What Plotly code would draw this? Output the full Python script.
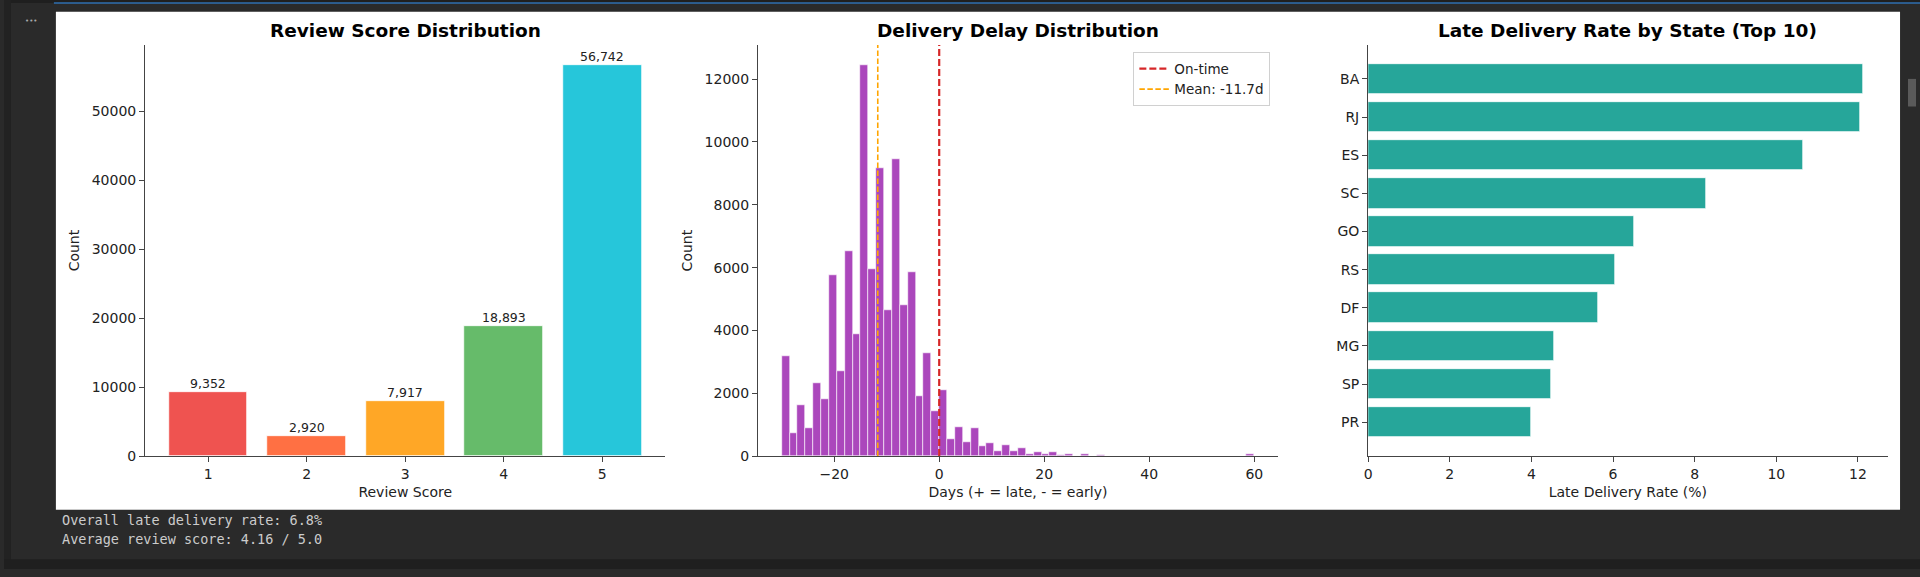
import numpy as np
import plotly.graph_objects as go

# ---------------- data ----------------
review_scores = [1, 2, 3, 4, 5]
review_counts = [9352, 2920, 7917, 18893, 56742]

delay_bin_start = -30
delay_bin_width = 1.5
delay_counts = [
    3194, 733, 1623, 890, 2325, 1822, 5759, 2702, 6534, 3895,
    12461, 5969, 9173, 4639, 9445, 4817, 5843, 1906, 3277, 1445,
    2094, 534, 932, 440, 890, 314, 408, 157, 345, 157,
    240, 52, 136, 63, 136, 20, 73, 10, 52, 10,
    31, 0, 0, 0, 0, 0, 0, 0, 0, 0,
    0, 0, 0, 0, 0, 0, 0, 0, 0, 52,
]
delay_mean = -11.7
ontime_day = 0

states = ["BA", "RJ", "ES", "SC", "GO", "RS", "DF", "MG", "SP", "PR"]
late_rates = [12.12, 12.06, 10.66, 8.27, 6.51, 6.06, 5.64, 4.56, 4.48, 4.00]

summary_lines = ["Overall late delivery rate: 6.8%", "Average review score: 4.16 / 5.0"]

titles = ["Review Score Distribution", "Delivery Delay Distribution",
          "Late Delivery Rate by State (Top 10)"]

# ---------------- styles ----------------
W, H = 1920, 577
review_colors = ["#ef5350", "#ff7043", "#ffa726", "#66bb6a", "#26c6da"]
hist_color = "#ab47bc"
state_color = "#26a69a"
FONT = "DejaVu Sans"
TXT = "#222222"
AX = "#444444"


def fx(px):
    return px / W


def fy(py):
    return 1 - py / H


delay_centers = delay_bin_start + delay_bin_width * (np.arange(len(delay_counts)) + 0.5)
delay_ymax = max(delay_counts) * 1.05

fig = go.Figure()

fig.add_trace(go.Bar(
    x=review_scores, y=review_counts, width=0.8,
    marker=dict(color=review_colors, line=dict(color="white", width=0.8)),
    showlegend=False, xaxis="x", yaxis="y",
))

fig.add_trace(go.Bar(
    x=delay_centers, y=delay_counts, width=delay_bin_width,
    marker=dict(color=hist_color, line=dict(color="white", width=0.6)),
    showlegend=False, xaxis="x2", yaxis="y2",
))
fig.add_trace(go.Scatter(
    x=[ontime_day, ontime_day], y=[0, delay_ymax], mode="lines",
    line=dict(color="#d62728", width=2.2, dash="7px,3px"),
    name="On-time", xaxis="x2", yaxis="y2",
))
fig.add_trace(go.Scatter(
    x=[delay_mean, delay_mean], y=[0, delay_ymax], mode="lines",
    line=dict(color="#ffa500", width=1.6, dash="5.5px,2.5px"),
    name=f"Mean: {delay_mean}d", xaxis="x2", yaxis="y2",
))

fig.add_trace(go.Bar(
    x=late_rates, y=states, orientation="h", width=0.8,
    marker=dict(color=state_color, line=dict(color="white", width=0.8)),
    showlegend=False, xaxis="x3", yaxis="y3",
))

axis_common = dict(
    showline=True, linecolor=AX, linewidth=1.2, ticks="outside", ticklen=5,
    tickcolor=AX, tickwidth=1, showgrid=False, zeroline=False,
    tickfont=dict(family=FONT, size=14, color=TXT),
    title_font=dict(family=FONT, size=14, color=TXT),
)

ydom = [fy(462.5), fy(45.7)]

fig.update_layout(
    width=W, height=H,
    margin=dict(l=0, r=0, t=0, b=0),
    paper_bgcolor="#2a2a2a", plot_bgcolor="white",
    font=dict(family=FONT, color=TXT),
    bargap=0,
    xaxis=dict(axis_common, domain=[fx(141.4), fx(662.7)], range=[0.36, 5.64],
               tickvals=review_scores, anchor="y",
               title=dict(text="Review Score", standoff=6)),
    yaxis=dict(axis_common, domain=ydom, range=[0, max(review_counts) * 1.05],
               tickvals=[0, 10000, 20000, 30000, 40000, 50000], tickformat="d",
               anchor="x", title=dict(text="Count", standoff=8)),
    xaxis2=dict(axis_common, domain=[fx(755.6), fx(1276.6)], range=[-34.5, 64.5],
                tickvals=[-20, 0, 20, 40, 60], anchor="y2",
                title=dict(text="Days (+ = late, - = early)", standoff=6)),
    yaxis2=dict(axis_common, domain=ydom, range=[0, delay_ymax],
                tickvals=[0, 2000, 4000, 6000, 8000, 10000, 12000], tickformat="d",
                anchor="x2", title=dict(text="Count", standoff=8)),
    xaxis3=dict(axis_common, domain=[fx(1367), fx(1887.5)],
                range=[0, max(late_rates) * 1.05],
                tickvals=[0, 2, 4, 6, 8, 10, 12], anchor="y3",
                title=dict(text="Late Delivery Rate (%)", standoff=6)),
    yaxis3=dict(axis_common, domain=ydom, type="category", categoryorder="array",
                categoryarray=states, range=[len(states) - 0.11, -0.89], anchor="x3"),
    legend=dict(x=fx(1269), y=fy(53), xanchor="right", yanchor="top",
                bgcolor="white", bordercolor="#d0d0d0", borderwidth=1,
                font=dict(family=FONT, size=13.5, color=TXT)),
)

# background panels / notebook chrome
shapes = [
    dict(type="rect", xref="paper", yref="paper", x0=0, x1=1, y0=fy(3), y1=1,
         fillcolor="#1f1f1f", line=dict(width=0), layer="below"),
    dict(type="line", xref="paper", yref="paper", x0=fx(50), x1=1, y0=fy(3), y1=fy(3),
         line=dict(color="#2f6fb0", width=1.5), layer="below"),
    dict(type="rect", xref="paper", yref="paper", x0=0, x1=fx(7), y0=0, y1=1,
         fillcolor="#222222", line=dict(width=0), layer="below"),
    dict(type="rect", xref="paper", yref="paper", x0=0, x1=1, y0=0, y1=fy(567),
         fillcolor="#1f1f1f", line=dict(width=0), layer="below"),
    dict(type="rect", xref="paper", yref="paper", x0=fx(52), x1=fx(1900),
         y0=fy(517), y1=fy(12), fillcolor="white", line=dict(width=0), layer="below"),
    dict(type="rect", xref="paper", yref="paper", x0=fx(1908), x1=fx(1916),
         y0=fy(108), y1=fy(80), fillcolor="#5a5a5a", line=dict(width=0), layer="below"),
]
fig.update_layout(shapes=shapes)

annotations = []
# value labels above the review bars
for s, c in zip(review_scores, review_counts):
    annotations.append(dict(
        text=f"{c:,}", x=s, y=c, xref="x", yref="y", xanchor="center",
        yanchor="bottom", yshift=-1, showarrow=False,
        font=dict(family=FONT, size=12.5, color=TXT),
    ))
centers = [(141.4 + 662.7) / 2, (755.6 + 1276.6) / 2, (1367 + 1887.5) / 2]
for t, cx in zip(titles, centers):
    annotations.append(dict(
        text=t, xref="paper", yref="paper", x=fx(cx), y=fy(31),
        xanchor="center", yanchor="middle", showarrow=False,
        font=dict(family=FONT, size=18.5, color="black", weight="bold"),
    ))
for i, line in enumerate(summary_lines):
    annotations.append(dict(
        text=line, xref="paper", yref="paper", x=fx(56), y=fy(527 + 20 * i),
        xanchor="left", yanchor="middle", showarrow=False,
        font=dict(family="DejaVu Sans Mono", size=13.5, color="#cccccc"),
    ))
annotations.append(dict(
    text="•••", xref="paper", yref="paper", x=fx(27), y=fy(21),
    xanchor="center", yanchor="middle", showarrow=False,
    font=dict(family=FONT, size=7, color="#aaaaaa"),
))
fig.update_layout(annotations=annotations)

fig.write_html(
    "out.html",
    config={"displayModeBar": False},
    post_script="document.body.style.margin='0';document.body.style.overflow='hidden';",
)
